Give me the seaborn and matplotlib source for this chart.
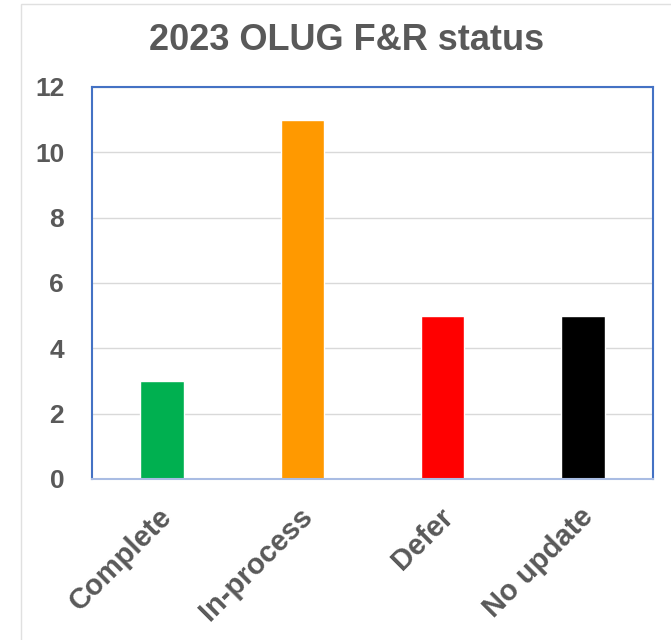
import matplotlib
matplotlib.use("Agg")
import matplotlib.pyplot as plt
import seaborn as sns
import pandas as pd
from matplotlib.patches import Rectangle
from matplotlib.transforms import ScaledTranslation

# chart data
categories = ["Complete", "In-process", "Defer", "No update"]
counts = [3, 11, 5, 5]
bar_colors = ["#00B050", "#FF9900", "#FF0000", "#000000"]
y_ticks = [0, 2, 4, 6, 8, 10, 12]
title = "2023 OLUG F&R status"

df = pd.DataFrame({"status": categories, "count": counts})

sns.set_style("white")
plt.rcParams["font.family"] = ["Liberation Sans", "DejaVu Sans"]
text_gray = "#595959"

fig = plt.figure(figsize=(6.71, 6.40), dpi=100)
ax = fig.add_axes([0.1371, 0.2516, 0.8361, 0.6125])

sns.barplot(data=df, x="status", y="count", hue="status", palette=bar_colors,
            legend=False, width=0.31, saturation=1, ax=ax, zorder=3)

ax.set_ylim(0, 12)
ax.set_xlim(-0.5, 3.5)
ax.set_yticks(y_ticks)
ax.set_yticklabels([str(t) for t in y_ticks], fontsize=19, fontweight="bold", color=text_gray)
ax.set_xticks(range(len(categories)))
ax.set_xticklabels(categories, fontsize=21, fontweight="bold", color=text_gray,
                   rotation=45, ha="right", rotation_mode="anchor")
ax.tick_params(axis="y", length=0, pad=20)
ax.tick_params(axis="x", length=0, pad=17)
# nudge rotated labels slightly to the left
for lbl in ax.get_xticklabels():
    lbl.set_transform(lbl.get_transform() + ScaledTranslation(-4 / 100, 0, fig.dpi_scale_trans))
ax.set_xlabel("")
ax.set_ylabel("")
ax.yaxis.grid(True, color="#D9D9D9", linewidth=1, zorder=0)
ax.set_axisbelow(True)

for side in ["top", "left", "right"]:
    ax.spines[side].set_color("#4472C4")
    ax.spines[side].set_linewidth(1.5)
ax.spines["bottom"].set_color("#A9BCE3")
ax.spines["bottom"].set_linewidth(1.5)
for s in ax.spines.values():
    s.set_zorder(4)

fig.text(0.516, 0.9375, title, ha="center", va="center", fontsize=26,
         fontweight="bold", color=text_gray)

# faint outer frame of the original chart area
fig.patches.append(Rectangle((21 / 671, -0.05), 1.1, 1 - 4 / 640 + 0.05,
                             transform=fig.transFigure, fill=False,
                             edgecolor="#E0E0E0", linewidth=1))

fig.savefig("out.png", dpi=100)
